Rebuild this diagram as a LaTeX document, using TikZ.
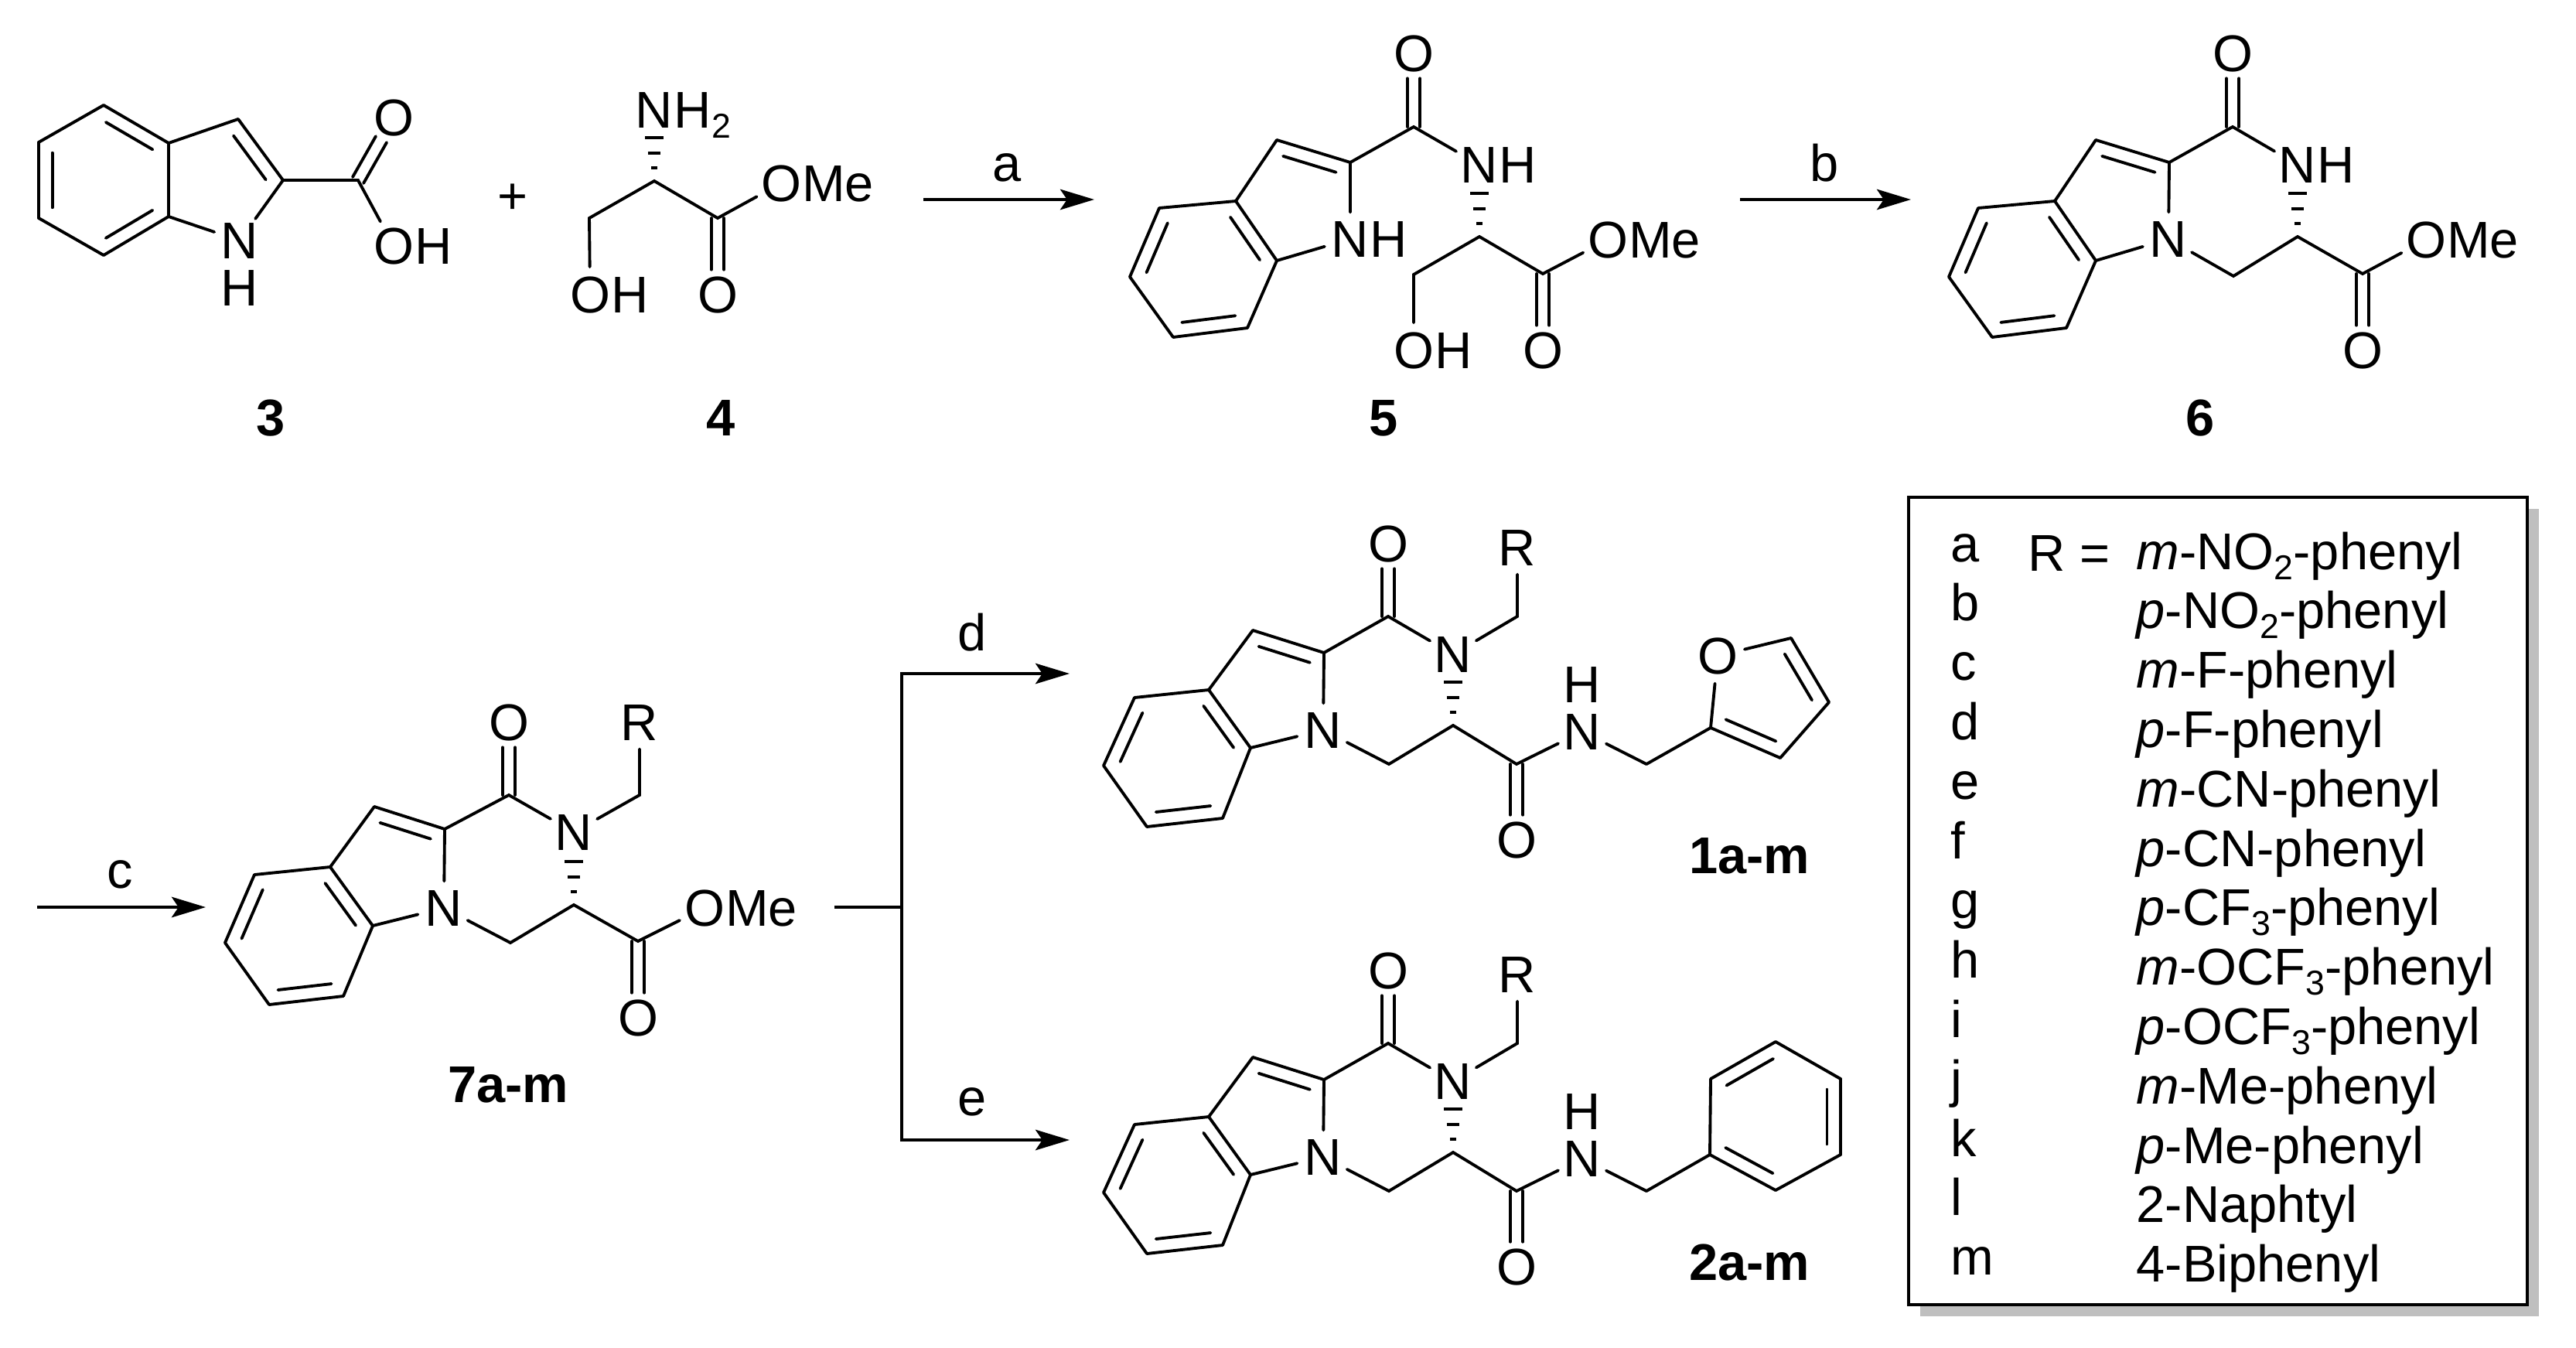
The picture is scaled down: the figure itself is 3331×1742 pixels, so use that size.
\documentclass[tikz,border=0pt]{standalone}
\usepackage{fontspec}
\setmainfont{Liberation Sans}
\usetikzlibrary{arrows.meta,calc,positioning}

\tikzset{
    bond/.style={line width=1.1pt, line cap=round},
    hash/.style={line width=1.2pt},
    atom/.style={circle, inner sep=0pt, text height=13.6pt, text depth=0pt, font=\fontsize{19}{22}\selectfont},
    tail/.style={inner sep=0pt, text height=13.6pt, text depth=0pt, font=\fontsize{19}{22}\selectfont},
    chemtext/.style={inner sep=0pt, anchor=base, font=\fontsize{19}{22}\selectfont},
    chemlabel/.style={chemtext, font=\fontsize{19}{22}\selectfont\bfseries},
    legendtext/.style={inner sep=0pt, anchor=base west, font=\fontsize{19}{22}\selectfont},
    rxnline/.style={line width=1.3pt},
    rxnarrow/.style={rxnline, -{Stealth[length=12.5pt, width=7.5pt, inset=2.5pt]}}
}

\newcommand{\subnum}[1]{\raisebox{-3.7pt}{\fontsize{12.7}{13}\selectfont #1}}
\newcommand{\ringbond}[2]{
    \draw[bond] (#1) -- (#2);
    \draw[bond] ($(#1)!.14!(#2)!5pt!-90:(#2)$) -- ($(#2)!.14!(#1)!5pt!90:(#1)$);
}
\newcommand{\carbonyl}[2]{
    \draw[bond, shorten >=9.2pt] ($(#1)!2.3pt!90:(#2)$) -- ($(#2)!2.3pt!-90:(#1)$);
    \draw[bond, shorten >=9.2pt] ($(#1)!2.3pt!-90:(#2)$) -- ($(#2)!2.3pt!90:(#1)$);
}
\newcommand{\hashbond}[2]{
    \foreach \hashpos/\hashw in {4.8pt/1.1pt, 10.2pt/2.3pt, 15.9pt/3.4pt}{
        \draw[hash] ($(#1)!\hashpos!(#2)!\hashw!90:(#2)$) -- ($(#1)!\hashpos!(#2)!\hashw!-90:(#2)$);
    }
}
% benzo ring and the C=C of the five-membered ring
\newcommand{\indolebonds}[1]{
    \ringbond{#1a}{#1b}
    \draw[bond] (#1b) -- (#1c);
    \ringbond{#1c}{#1d}
    \draw[bond] (#1d) -- (#1e);
    \ringbond{#1e}{#1f}
    \draw[bond] (#1f) -- (#1a) -- (#1k);
    \ringbond{#1k}{#1j}
}
% tricyclic amide shared by 1a-m and 2a-m
\newcommand{\amidecore}[1]{
    \coordinate (#1a) at (1563,892);
    \coordinate (#1b) at (1617,967);
    \coordinate (#1c) at (1581,1058);
    \coordinate (#1d) at (1483,1069);
    \coordinate (#1e) at (1427,990);
    \coordinate (#1f) at (1467,902);
    \coordinate (#1k) at (1620,815);
    \coordinate (#1j) at (1712,844);
    \coordinate (#1co) at (1795,797);
    \coordinate (#1cr) at (1962,797);
    \coordinate (#1ch) at (1796,988);
    \coordinate (#1st) at (1879,938);
    \coordinate (#1am) at (1961,988);
    \coordinate (#1bn) at (2129,988);
    \node[atom] (#1o) at (1795,703) {O};
    \node[atom] (#1r) at (1962,708) {R};
    \node[atom] (#1n) at (1879,846) {N};
    \node[atom] (#1ni) at (1711,944) {N};
    \node[atom] (#1oa) at (1961,1086) {O};
    \node[atom] (#1na) at (2046,946) {N};
    \node[tail] (#1nah) at (2046,885) {H};
    \indolebonds{#1}
    \draw[bond] (#1j) -- (#1ni) -- (#1b);
    \draw[bond] (#1j) -- (#1co) -- (#1n) -- (#1cr) -- (#1r);
    \carbonyl{#1co}{#1o}
    \hashbond{#1st}{#1n}
    \draw[bond] (#1ni) -- (#1ch) -- (#1st) -- (#1am) -- (#1na) -- (#1bn);
    \carbonyl{#1am}{#1oa}
}

\begin{document}
\begin{tikzpicture}[x=0.01cm,y=-0.01cm]
    \useasboundingbox (0,0) rectangle (3331,1742);

    % compound 3
    \coordinate (ma) at (218,185);
    \coordinate (mb) at (218,280);
    \coordinate (mc) at (134,330);
    \coordinate (md) at (50,282);
    \coordinate (me) at (50,184);
    \coordinate (mf) at (134,136);
    \coordinate (mk) at (308,154);
    \coordinate (mj) at (366,233);
    \coordinate (mco) at (463,233);
    \node[atom] (mn) at (310,311) {N};
    \node[tail] (mnh) at (310,372) {H};
    \node[atom] (mo) at (509,152) {O};
    \node[atom] (moh) at (509,318) {O};
    \node[tail, right=-2.7pt of moh] (mohh) {H};
    \draw[bond] (ma) -- (mb);
    \ringbond{mb}{mc}
    \draw[bond] (mc) -- (md);
    \ringbond{md}{me}
    \draw[bond] (me) -- (mf);
    \ringbond{mf}{ma}
    \draw[bond] (ma) -- (mk);
    \ringbond{mk}{mj}
    \draw[bond] (mb) -- (mn) -- (mj) -- (mco) -- (moh);
    \carbonyl{mco}{mo}
    \node[chemlabel] (lbla) at (350,563) {3};

    \node[chemtext, anchor=center] (plus) at (663,257) {+};

    % compound 4
    \coordinate (sc) at (846,234);
    \coordinate (sch) at (762,282);
    \coordinate (sco) at (928,282);
    \node[atom] (sn) at (846,142) {N};
    \node[tail, right=-2.7pt of sn] (snh) {H\subnum{2}};
    \node[atom] (soh) at (763,381) {O};
    \node[tail, right=-2.7pt of soh] (sohh) {H};
    \node[atom] (so) at (928,381) {O};
    \node[atom] (sm) at (1010,237) {O};
    \node[tail, right=-2.7pt of sm] (smm) {Me};
    \hashbond{sc}{sn}
    \draw[bond] (soh) -- (sch) -- (sc) -- (sco) -- (sm);
    \carbonyl{sco}{so}
    \node[chemlabel] (lblb) at (932,563) {4};

    % step a
    \coordinate (stepas) at (1194,258);
    \coordinate (stepae) at (1415,258);
    \draw[rxnarrow] (stepas) -- (stepae);
    \node[chemtext] (stepa) at (1302,234) {a};

    % compound 5
    \coordinate (pa) at (1598,260);
    \coordinate (pb) at (1651,337);
    \coordinate (pc) at (1613,424);
    \coordinate (pd) at (1517,436);
    \coordinate (pe) at (1461,358);
    \coordinate (pf) at (1499,269);
    \coordinate (pk) at (1651,181);
    \coordinate (pj) at (1746,210);
    \coordinate (pco) at (1828,164);
    \coordinate (pst) at (1913,306);
    \coordinate (pch) at (1828,355);
    \coordinate (pes) at (1995,354);
    \node[atom] (po) at (1828,69) {O};
    \node[atom] (pn) at (1913,213) {N};
    \node[tail, right=-2.7pt of pn] (pnh) {H};
    \node[atom] (pni) at (1746,309) {N};
    \node[tail, right=-2.7pt of pni] (pnih) {H};
    \node[atom] (poh) at (1828,453) {O};
    \node[tail, right=-2.7pt of poh] (pohh) {H};
    \node[atom] (pof) at (1995,453) {O};
    \node[atom] (pme) at (2079,310) {O};
    \node[tail, right=-2.7pt of pme] (pmem) {Me};
    \indolebonds{p}
    \draw[bond] (pb) -- (pni) -- (pj) -- (pco) -- (pn);
    \carbonyl{pco}{po}
    \hashbond{pst}{pn}
    \draw[bond] (poh) -- (pch) -- (pst) -- (pes) -- (pme);
    \carbonyl{pes}{pof}
    \node[chemlabel] (lblc) at (1789,563) {5};

    % step b
    \coordinate (stepbs) at (2250,258);
    \coordinate (stepbe) at (2471,258);
    \draw[rxnarrow] (stepbs) -- (stepbe);
    \node[chemtext] (stepb) at (2359,234) {b};

    % compound 6
    \coordinate (qa) at (2657,260);
    \coordinate (qb) at (2710,337);
    \coordinate (qc) at (2672,424);
    \coordinate (qd) at (2576,436);
    \coordinate (qe) at (2520,358);
    \coordinate (qf) at (2558,269);
    \coordinate (qk) at (2710,181);
    \coordinate (qj) at (2805,210);
    \coordinate (qco) at (2887,164);
    \coordinate (qst) at (2971,306);
    \coordinate (qch) at (2888,357);
    \coordinate (qes) at (3055,354);
    \node[atom] (qo) at (2887,69) {O};
    \node[atom] (qn) at (2971,213) {N};
    \node[tail, right=-2.7pt of qn] (qnh) {H};
    \node[atom] (qni) at (2804,309) {N};
    \node[atom] (qof) at (3055,453) {O};
    \node[atom] (qme) at (3137,310) {O};
    \node[tail, right=-2.7pt of qme] (qmem) {Me};
    \indolebonds{q}
    \draw[bond] (qb) -- (qni) -- (qj) -- (qco) -- (qn);
    \carbonyl{qco}{qo}
    \hashbond{qst}{qn}
    \draw[bond] (qni) -- (qch) -- (qst) -- (qes) -- (qme);
    \carbonyl{qes}{qof}
    \node[chemlabel] (lbld) at (2845,563) {6};

    % step c
    \coordinate (stepcs) at (48,1173);
    \coordinate (stepce) at (266,1173);
    \draw[rxnarrow] (stepcs) -- (stepce);
    \node[chemtext] (stepc) at (155,1148) {c};

    % compound 7a-m
    \coordinate (ra) at (427,1121);
    \coordinate (rb) at (482,1197);
    \coordinate (rc) at (444,1288);
    \coordinate (rd) at (348,1299);
    \coordinate (re) at (291,1219);
    \coordinate (rf) at (329,1131);
    \coordinate (rk) at (484,1043);
    \coordinate (rj) at (575,1072);
    \coordinate (rco) at (658,1028);
    \coordinate (rcr) at (827,1028);
    \coordinate (rch) at (660,1219);
    \coordinate (rst) at (742,1170);
    \coordinate (res) at (825,1217);
    \node[atom] (ro) at (658,934) {O};
    \node[atom] (rr) at (827,934) {R};
    \node[atom] (rn) at (742,1076) {N};
    \node[atom] (rni) at (574,1174) {N};
    \node[atom] (rof) at (825,1316) {O};
    \node[atom] (rme) at (911,1174) {O};
    \node[tail, right=-2.7pt of rme] (rmem) {Me};
    \indolebonds{r}
    \draw[bond] (rb) -- (rni) -- (rj) -- (rco) -- (rn) -- (rcr) -- (rr);
    \carbonyl{rco}{ro}
    \hashbond{rst}{rn}
    \draw[bond] (rni) -- (rch) -- (rst) -- (res) -- (rme);
    \carbonyl{res}{rof}
    \node[chemlabel] (lble) at (657,1425) {7a-m};

    % branch to steps d and e
    \coordinate (splits) at (1079,1173);
    \coordinate (splitm) at (1166,1173);
    \coordinate (stepde) at (1383,871);
    \coordinate (stepee) at (1383,1474);
    \draw[rxnline] (splits) -- (splitm);
    \draw[rxnarrow] (splitm) |- (stepde);
    \draw[rxnarrow] (splitm) |- (stepee);
    \node[chemtext] (stepd) at (1257,841) {d};
    \node[chemtext] (stepe) at (1257,1442) {e};

    % compound 1a-m
    \amidecore{u}
    \coordinate (uf) at (2212,941);
    \coordinate (ug) at (2316,825);
    \coordinate (uh) at (2365,908);
    \coordinate (ui) at (2302,980);
    \node[atom] (ufu) at (2221,848) {O};
    \draw[bond] (ubn) -- (uf) -- (ufu) -- (ug);
    \ringbond{ug}{uh}
    \draw[bond] (uh) -- (ui);
    \ringbond{ui}{uf}
    \node[chemlabel] (lblf) at (2262,1129) {1a-m};

    % compound 2a-m
    \begin{scope}[shift={(0,552)}]
        \amidecore{v}
        \coordinate (vp) at (2211,941);
        \coordinate (vq) at (2212,843);
        \coordinate (vs) at (2296,795);
        \coordinate (vt) at (2380,843);
        \coordinate (vw) at (2380,941);
        \coordinate (vx) at (2296,987);
        \draw[bond] (vbn) -- (vp) -- (vq);
        \ringbond{vq}{vs}
        \draw[bond] (vs) -- (vt);
        \ringbond{vt}{vw}
        \draw[bond] (vw) -- (vx);
        \ringbond{vx}{vp}
    \end{scope}
    \node[chemlabel] (lblg) at (2262,1655) {2a-m};

    % substituent table
    \fill[black!25] (2483,658) rectangle (3283,1702);
    \draw[line width=1.1pt, fill=white] (2468,643) rectangle (3268,1687);
    \foreach \tag [count=\n from 0] in {a,b,c,d,e,f,g,h,i,j,k,l,m}{
        \node[legendtext] (tag\n) at (2522,{726+76.9*\n}) {\tag};
    }
    \node[legendtext] (req) at (2622,738) {R =};
    \foreach \sub [count=\n from 0] in {
        \textit{m}-NO\subnum{2}-phenyl, \textit{p}-NO\subnum{2}-phenyl,
        \textit{m}-F-phenyl, \textit{p}-F-phenyl,
        \textit{m}-CN-phenyl, \textit{p}-CN-phenyl,
        \textit{p}-CF\subnum{3}-phenyl, \textit{m}-OCF\subnum{3}-phenyl,
        \textit{p}-OCF\subnum{3}-phenyl, \textit{m}-Me-phenyl,
        \textit{p}-Me-phenyl, 2-Naphtyl, 4-Biphenyl}{
        \node[legendtext] (sub\n) at (2762,{736+76.8*\n}) {\sub};
    }
\end{tikzpicture}
\end{document}
